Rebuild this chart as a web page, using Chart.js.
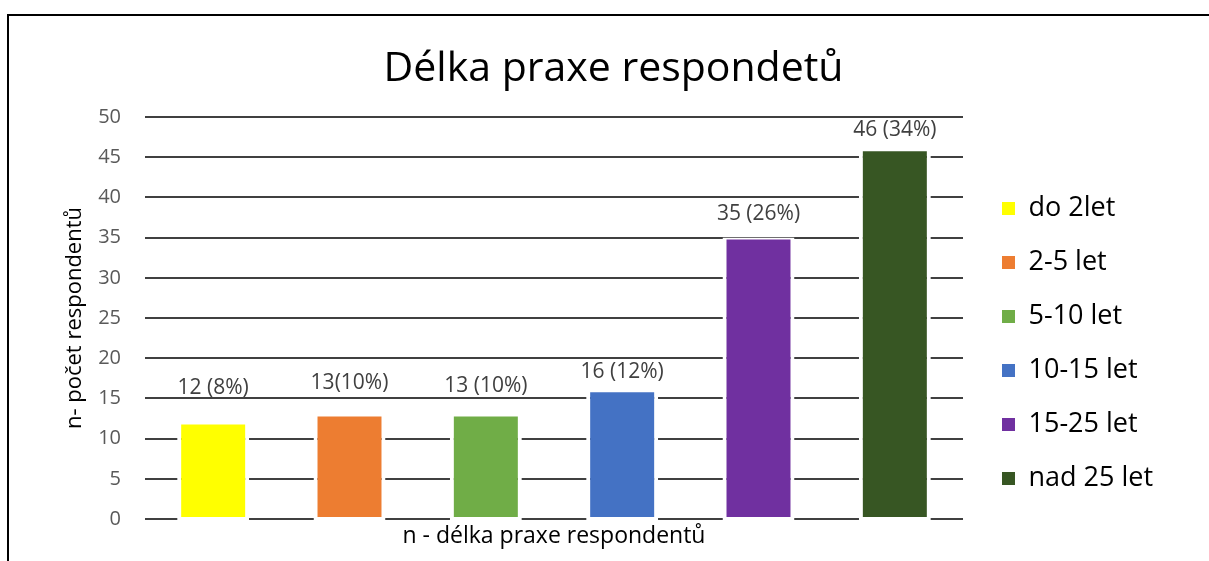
<!DOCTYPE html>
<html>
<head>
<meta charset="utf-8">
<script src="https://cdn.jsdelivr.net/npm/chart.js@4/dist/chart.umd.min.js"></script>
<style>
  html, body { margin: 0; padding: 0; background: #fff; overflow: hidden; }
  #wrap { position: relative; width: 1209px; height: 561px; }
  #frame { position: absolute; left: 7px; top: 14px; width: 1230px; height: 600px;
           border-top: 2px solid #000; border-left: 2px solid #000; pointer-events: none; }
</style>
</head>
<body>
<div id="wrap">
  <canvas id="c" width="1209" height="561"></canvas>
  <div id="frame"></div>
</div>
<script>
const categories = ['do 2let', '2-5 let', '5-10 let', '10-15 let', '15-25 let', 'nad 25 let'];
const counts = [12, 13, 13, 16, 35, 46];
const valueLabels = ['12 (8%)', '13(10%)', '13 (10%)', '16 (12%)', '35 (26%)', '46 (34%)'];
const barColors = ['#FFFF00', '#ED7D31', '#70AD47', '#4472C4', '#7030A0', '#375623'];
const yMin = 0, yMax = 50, yStep = 5;
const chartTitle = 'Délka praxe respondetů';
const xTitle = 'n - délka praxe respondentů';
const yTitle = 'n- počet respondentů';

const FONT = "'Open Sans', 'Liberation Sans', sans-serif";
Chart.defaults.font.family = FONT;

const legendWidthPlugin = {
  id: 'legendWidth',
  beforeInit(chart) {
    const lg = chart.legend;
    if (lg && !lg._patched) {
      const orig = lg.fit.bind(lg);
      lg.fit = function () { orig(); this.width = 234; };
      lg._patched = true;
    }
  }
};

const valueLabelPlugin = {
  id: 'valueLabels',
  afterDatasetsDraw(chart, args, opts) {
    const ctx = chart.ctx;
    const meta = chart.getDatasetMeta(0);
    ctx.save();
    ctx.font = "21px " + FONT;
    ctx.fillStyle = '#404040';
    ctx.textAlign = 'center';
    ctx.textBaseline = 'middle';
    meta.data.forEach((bar, i) => {
      const lift = (opts.lift && opts.lift[i] !== undefined) ? opts.lift[i] : 25;
      ctx.fillText(valueLabels[i], bar.x, bar.y - lift);
    });
    ctx.restore();
  }
};

new Chart(document.getElementById('c'), {
  type: 'bar',
  data: {
    labels: categories,
    datasets: [{
      data: counts,
      backgroundColor: barColors,
      borderColor: '#ffffff',
      borderWidth: { top: 2, left: 4, right: 4, bottom: 4 },
      borderSkipped: false,
      base: -0.25,
      barPercentage: 0.528,
      categoryPercentage: 1,
      clip: false
    }]
  },
  options: {
    responsive: false,
    animation: false,
    layout: { padding: { left: 18, top: 0, right: 0, bottom: 0 } },
    plugins: {
      tooltip: { enabled: false },
      valueLabels: { lift: [35, 31, 28, 18, 24, 19] },
      title: {
        display: true,
        text: chartTitle,
        color: '#000000',
        font: { family: FONT, size: 41, weight: 'normal' },
        padding: { top: 44.4, bottom: 23.4 }
      },
      legend: {
        position: 'right',
        align: 'end',
        fullSize: false,
        labels: {
          color: '#000000',
          font: { family: FONT, size: 27 },
          boxWidth: 13,
          boxHeight: 13,
          padding: 27,
          generateLabels(chart) {
            const ds = chart.data.datasets[0];
            return chart.data.labels.map((l, i) => ({
              text: l,
              fillStyle: ds.backgroundColor[i],
              strokeStyle: ds.backgroundColor[i],
              lineWidth: 0,
              hidden: false,
              index: i,
              fontColor: '#000000'
            }));
          }
        }
      }
    },
    scales: {
      x: {
        type: 'category',
        ticks: { display: false },
        grid: { display: false, drawTicks: false },
        border: { display: false },
        title: {
          display: true,
          text: xTitle,
          color: '#000000',
          font: { family: FONT, size: 23 },
          padding: { top: 4, bottom: 10.8 }
        },
        afterFit(s) { s.height = 42; }
      },
      y: {
        min: yMin,
        max: yMax,
        ticks: { stepSize: yStep, color: '#595959', font: { family: FONT, size: 20 }, padding: 24 },
        grid: { color: '#404040', lineWidth: 2, drawTicks: false },
        border: { display: false },
        title: {
          display: true,
          text: yTitle,
          color: '#000000',
          font: { family: FONT, size: 22 },
          padding: { top: 43.3, bottom: 0 }
        },
        afterFit(s) { s.width = 127; }
      },
      yGap: {
        position: 'right',
        display: true,
        ticks: { display: false },
        grid: { display: false, drawTicks: false },
        border: { display: false },
        afterFit(s) { s.width = 12; }
      }
    }
  },
  plugins: [legendWidthPlugin, valueLabelPlugin]
});
</script>
</body>
</html>
